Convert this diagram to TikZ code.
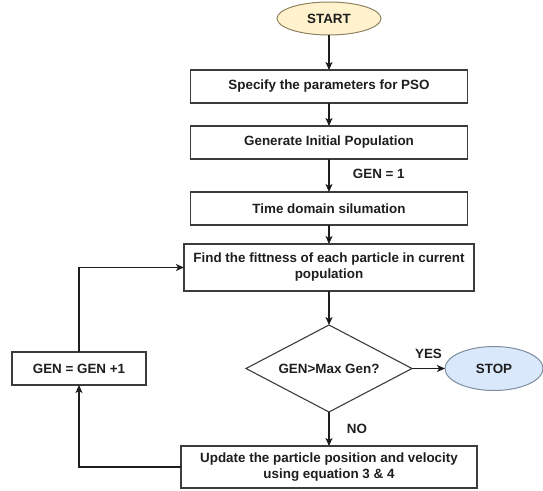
\documentclass[tikz,border=0pt]{standalone}
\usepackage{fontspec}
\setmainfont{Liberation Sans}
\usetikzlibrary{shapes.geometric, positioning, arrows.meta}
\definecolor{ink}{HTML}{1E1E1E}
\definecolor{edgegray}{HTML}{3C3C3C}
\definecolor{startfill}{HTML}{FFF2CC}
\definecolor{startline}{HTML}{8E8260}
\definecolor{stopfill}{HTML}{DAE8FC}
\definecolor{stopline}{HTML}{7D8C9E}
\tikzset{
>={Stealth[length=8pt, width=7pt, inset=2pt]}, % filled arrow heads
node distance=34pt, % gap between two boxes, changed per node where needed
every node/.style={font=\bfseries\fontsize{13.4}{16}\selectfont, text=ink}, % bold sans labels
flow/.style={->, draw=ink, line width=1.1pt}, % the connectors
stepbox/.style={draw=edgegray, line width=1.1pt, fill=white, align=center, outer sep=0pt, minimum width=277pt, minimum height=33pt}, % process boxes
terminal/.style={ellipse, line width=1pt, outer sep=0pt, minimum width=104pt, minimum height=33pt}, % start and stop
decision/.style={diamond, aspect=1.9, draw=edgegray, line width=1.1pt, fill=white, outer sep=0pt, minimum width=166pt, minimum height=87pt, inner sep=0pt}, % the test
}
\begin{document}
\begin{tikzpicture}
                \useasboundingbox (0,0) rectangle (543pt,-490pt);
                \node[terminal, draw=startline, fill=startfill] (start) at (329pt,-18.5pt) {START};
                \node[stepbox, below=35pt of start] (spec) {Specify the parameters for PSO};
                \node[stepbox, below=23pt of spec] (init) {Generate Initial Population};
                \node[stepbox, below=33pt of init] (sim) {Time domain silumation};
                \node[stepbox, below=19pt of sim, minimum width=290pt, minimum height=47pt] (fit) {Find the fittness of each particle in current\\population};
                \node[decision, below=34pt of fit] (chk) {GEN>Max Gen?};
                \node[terminal, draw=stopline, fill=stopfill, right=33pt of chk, minimum width=98pt, minimum height=44pt] (stop) {STOP};
                \node[stepbox, below=34pt of chk, minimum width=296pt, minimum height=42pt, font=\bfseries\fontsize{13.4}{15.5}\selectfont] (upd) {Update the particle position and velocity\\using equation 3 \& 4};
                \node[stepbox, left=100pt of chk, minimum width=134pt] (inc) {GEN = GEN +1};
                \draw[flow]
                    (start) edge (spec)
                    (spec) edge (init)
                    (init) edge node[right=20pt, pos=0.45]{GEN = 1} (sim)
                    (sim) edge (fit)
                    (fit) edge (chk)
                    (chk) edge node[above=6pt]{YES} (stop)
                    (chk) edge node[right=14pt]{NO} (upd)
                    ;
                \draw[flow] (upd.west) -| (inc.south);
                \draw[flow] (inc.north) |- (fit.west);
                \end{tikzpicture}
\end{document}
